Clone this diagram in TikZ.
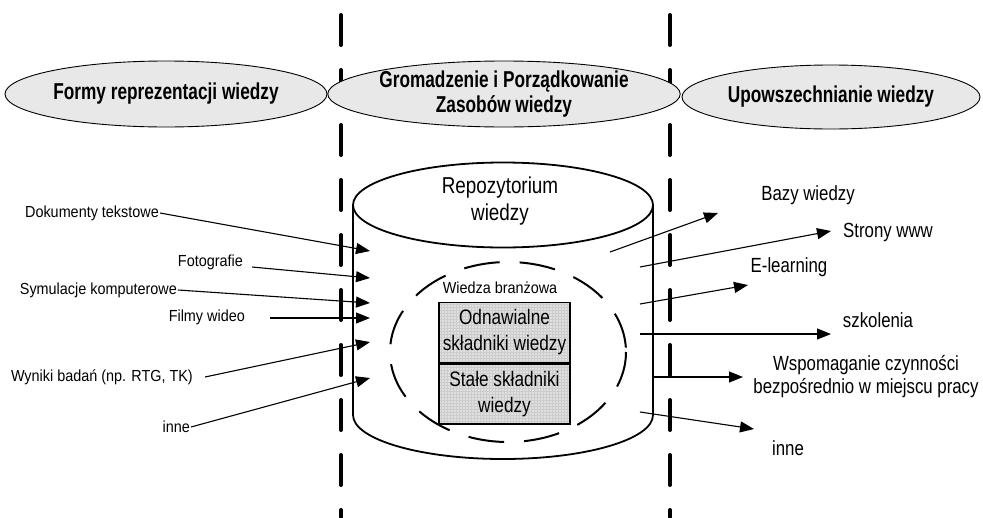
\documentclass[tikz,border=0pt]{standalone}
\usepackage{fontspec}
\setmainfont{Liberation Sans}
\newfontfamily\headfont[FakeStretch=0.75]{Liberation Sans Bold}
\newfontfamily\narrowfont[FakeStretch=0.82]{Liberation Sans}
\newfontfamily\semifont[FakeStretch=0.9]{Liberation Sans}
\usetikzlibrary{shapes.geometric,arrows.meta,patterns}
\begin{document}
\begin{tikzpicture}[x=1pt,y=-1pt,
  sep/.style={line width=4pt,line cap=round,dash pattern=on 30pt off 25pt},
  head/.style={ellipse,draw,line width=0.9pt,fill=black!9,inner sep=0pt,align=center,
    font=\headfont\fontsize{23}{24.5}\selectfont},
  lbl/.style={inner sep=1pt,font=\semifont\fontsize{16}{18}\selectfont},
  rlbl/.style={inner sep=1pt,align=center,font=\narrowfont\fontsize{20.5}{23}\selectfont},
  arr/.style={line width=1.1pt,-{Triangle[length=14pt,width=11pt]}},
  cyl/.style={line width=1.8pt},
  ring/.style={line width=2pt,dash pattern=on 36pt off 20pt},
  comp/.style={draw,line width=1.8pt,preaction={fill=black!12},pattern=grid,pattern color=black!20,
    minimum width=131pt,minimum height=60pt,
    inner sep=0pt,align=center,font=\narrowfont\fontsize{21}{26}\selectfont}
]
\useasboundingbox (0,0) rectangle (983,517);
% separators
\draw[sep] (341,15) -- (341,517);
\draw[sep] (670,15) -- (670,517);
% headings
\node[head,minimum width=322pt,minimum height=66pt] (h1) at (166,94) {Formy reprezentacji wiedzy};
\node[head,minimum width=310pt,minimum height=66pt] (h2) at (504,94) {Gromadzenie i Porządkowanie\\Zasobów wiedzy};
\node[head,minimum width=298pt,minimum height=64pt] (h3) at (831,97) {Upowszechnianie wiedzy};
% cylinder
\draw[cyl,fill=white] (353,205) -- (353,415) arc[start angle=180,end angle=0,x radius=150,y radius=44] -- (653,205);
\draw[cyl,fill=white] (503,205) ellipse[x radius=150,y radius=42.5];
\node[align=center,inner sep=0pt,font=\narrowfont\fontsize{23}{27}\selectfont] (repo) at (500,201) {Repozytorium\\wiedzy};
% inner dashed ring
\draw[ring] (508,352) ellipse[x radius=118,y radius=90];
\node[lbl] (wb) at (500,288) {Wiedza branżowa};
% components
\node[comp] (odn) at (504.5,332.5) {Odnawialne\\składniki wiedzy};
\node[comp,anchor=north] (sta) at (odn.south) {Stałe składniki\\wiedzy};
\draw[line width=3pt] (odn.south west) -- (odn.south east);
% left labels and arrows
\node[lbl,anchor=east] (l1) at (160,213) {Dokumenty tekstowe};
\node[lbl,anchor=east] (l2) at (244,262) {Fotografie};
\node[lbl,anchor=east] (l3) at (178,290) {Symulacje komputerowe};
\node[lbl,anchor=east] (l4) at (246,317) {Filmy wideo};
\node[lbl,anchor=east] (l5) at (194,377) {Wyniki badań (np. RTG, TK)};
\node[lbl,anchor=east] (l6) at (191,427) {inne};
\coordinate (t1) at (370,251);
\coordinate (t2) at (370,278);
\coordinate (t3) at (370,303);
\coordinate (t4) at (370,318);
\coordinate (t5) at (370,342);
\coordinate (t6) at (370,378);
\coordinate (s2) at (252,267);
\coordinate (s4) at (270,318);
\coordinate (s5) at (205,377);
\draw[arr] (l1.east) -- (t1);
\draw[arr] (s2) -- (t2);
\draw[arr] (l3.east) -- (t3);
\draw[arr] (s4) -- (t4);
\draw[arr] (s5) -- (t5);
\draw[arr] (l6.east) -- (t6);
% right labels and arrows
\node[rlbl] (r1) at (808,195) {Bazy wiedzy};
\node[rlbl] (r2) at (888,232) {Strony www};
\node[rlbl] (r3) at (789,267) {E-learning};
\node[rlbl] (r4) at (878,320) {szkolenia};
\node[rlbl] (r5) at (866,376.5) {Wspomaganie czynności\\bezpośrednio w miejscu pracy};
\node[rlbl] (r6) at (788,448) {inne};
\coordinate (a1) at (610,252);
\coordinate (a2) at (640,267);
\coordinate (a3) at (640,304);
\coordinate (a4) at (640,334);
\coordinate (a5) at (653,377);
\coordinate (a6) at (640,412);
\coordinate (e1) at (718,213);
\coordinate (e2) at (831,231);
\coordinate (e3) at (748,285);
\coordinate (e4) at (831,334);
\coordinate (e5) at (743,377);
\coordinate (e6) at (754,429);
\draw[arr] (a1) -- (e1);
\draw[arr] (a2) -- (e2);
\draw[arr] (a3) -- (e3);
\draw[arr] (a4) -- (e4);
\draw[arr] (a5) -- (e5);
\draw[arr] (a6) -- (e6);
\end{tikzpicture}
\end{document}
